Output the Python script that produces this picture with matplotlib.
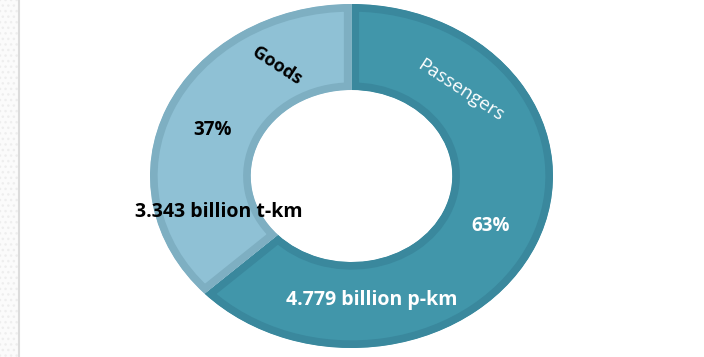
import matplotlib.pyplot as plt
from matplotlib.patches import Rectangle
from matplotlib.lines import Line2D

# traffic split
categories = ['Passengers', 'Goods']
shares = [63, 37]
volumes = ['4.779 billion p-km', '3.343 billion t-km']

fill_colors = ['#4196aa', '#8fc1d5']
edge_colors = ['#3a889d', '#7eafc2']

fig = plt.figure(figsize=(7.04, 3.57), dpi=100)
fig.patch.set_facecolor('white')

# donut is slightly stretched horizontally, so use a free-aspect axes
ax = fig.add_axes([150 / 704, 9 / 357, 403 / 704, 344 / 357])
wedges, _ = ax.pie(shares, startangle=90, counterclock=False, radius=1.0,
                   colors=fill_colors,
                   wedgeprops=dict(width=0.5, linewidth=11))
for w, ec in zip(wedges, edge_colors):
    w.set_edgecolor(ec)
    # keep only the inner half of the stroke -> border band inside each wedge
    w.set_clip_path(w)
    w.set_clip_on(True)
ax.set_aspect('auto')
ax.set_xlim(-1, 1)
ax.set_ylim(-1, 1)
ax.axis('off')

font = 'Open Sans'
ax.text(-0.37, 0.64, categories[1], rotation=-33, ha='center', va='center',
        fontsize=13, fontweight='bold', color='black', family=font)
ax.text(0.54, 0.50, categories[0], rotation=-33, ha='center', va='center',
        fontsize=13.5, color='white', family=font)
ax.text(-0.69, 0.27, f'{shares[1]}%', ha='center', va='center',
        fontsize=13.5, fontweight='bold', color='black', family=font)
ax.text(-0.66, -0.21, volumes[1], ha='center', va='center',
        fontsize=14, fontweight='bold', color='black', family=font)
ax.text(0.69, -0.29, f'{shares[0]}%', ha='center', va='center',
        fontsize=13.5, fontweight='bold', color='white', family=font)
ax.text(0.10, -0.72, volumes[0], ha='center', va='center',
        fontsize=14, fontweight='bold', color='white', family=font)

# faint strip on the left edge of the slide
fig.patches.append(Rectangle((0, 0), 18 / 704, 1, transform=fig.transFigure,
                             facecolor='#fbfbfb', edgecolor='#eeeeee',
                             hatch='...', linewidth=0))
fig.lines.append(Line2D([18.5 / 704, 18.5 / 704], [0, 1],
                        transform=fig.transFigure, color='#dcdcdc', lw=1.5))

fig.savefig('out.png', dpi=100)
